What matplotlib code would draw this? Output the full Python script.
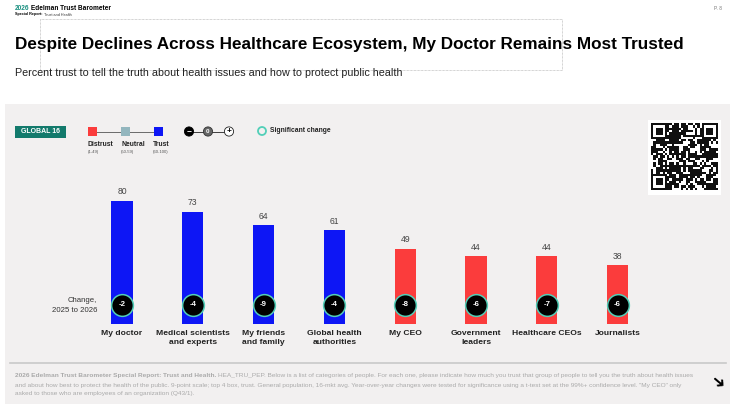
import matplotlib
matplotlib.use("Agg")
import matplotlib.pyplot as plt
from matplotlib.patches import Rectangle, Circle
import numpy as np

plt.rcParams['font.family'] = ['Liberation Sans', 'DejaVu Sans']

# data
categories = ["My doctor", "Medical scientists\nand experts", "My friends\nand family",
              "Global health\nauthorities", "My CEO", "Government\nleaders",
              "Healthcare CEOs", "Journalists"]
trust_2026 = [80, 73, 64, 61, 49, 44, 44, 38]
change_25_26 = [-2, -4, -9, -4, -8, -6, -7, -6]

TRUST_BLUE = "#0d16f5"
DISTRUST_RED = "#fb3c3c"
NEUTRAL = "#93b6be"
TEAL = "#137a6c"
RING = "#52cfb8"
PANEL = "#f2f0f0"

W, H = 730, 404
fig = plt.figure(figsize=(W / 100, H / 100), dpi=100)
fig.patch.set_facecolor("white")

# background axes in pixel coords (y down)
bg = fig.add_axes([0, 0, 1, 1])
bg.set_xlim(0, W)
bg.set_ylim(H, 0)
bg.axis("off")

bg.add_patch(Rectangle((5, 104), W - 5, H - 104, facecolor=PANEL, edgecolor="none", zorder=0))

# header
t = bg.text(15, 8, "2026", color="#1a9080", fontsize=4.7, fontweight="bold", va="center")
fig.canvas.draw()
bb = t.get_window_extent()
bg.text(bb.x1 + 1.5, 8, "Edelman Trust Barometer", color="black", fontsize=4.7,
        fontweight="bold", va="center")
t = bg.text(15, 14.5, "Special Report:", fontsize=2.7, fontweight="bold", va="center")
fig.canvas.draw()
bg.text(t.get_window_extent().x1 + 1, 14.5, "Trust and Health", fontsize=2.7, va="center", color="#333333")
bg.text(722, 9, "P. 8", fontsize=3.4, color="#777777", ha="right", va="center")

# dotted selection box
bg.add_patch(Rectangle((40, 19), 522, 51, facecolor="none", edgecolor="#aaaaaa",
                       lw=0.5, ls=(0, (1, 1)), zorder=1))

bg.text(15, 45, "Despite Declines Across Healthcare Ecosystem, My Doctor Remains Most Trusted",
        fontsize=12.35, fontweight="bold", va="center", color="black")
bg.text(15, 73, "Percent trust to tell the truth about health issues and how to protect public health",
        fontsize=7.75, va="center", color="#222222")

# legend row
bg.add_patch(Rectangle((15, 125.5), 51, 12, facecolor=TEAL, edgecolor="none", zorder=2))
bg.text(40.5, 131.7, "GLOBAL 16", color="white", fontsize=5, fontweight="bold",
        ha="center", va="center", zorder=3)

bg.plot([92, 158], [131.5, 131.5], color="#555555", lw=0.6, zorder=2)
for cx, col in zip([92, 125, 158], [DISTRUST_RED, NEUTRAL, TRUST_BLUE]):
    bg.add_patch(Rectangle((cx - 4.5, 127), 9, 9, facecolor=col, edgecolor="none", zorder=3))
for lx, lab, rng in zip([88, 121, 153], ["Distrust", "Neutral", "Trust"],
                        ["(1-49)", "(50-59)", "(60-100)"]):
    bg.text(lx, 145, lab, fontsize=4.9, fontweight="bold", va="center", color="#222222")
    bg.text(lx, 151.5, rng, fontsize=3.1, va="center", color="#555555")

bg.plot([189, 229], [131.5, 131.5], color="#222222", lw=0.6, zorder=2)
bg.add_patch(Circle((189, 131.5), 4.6, facecolor="black", edgecolor="black", lw=0.6, zorder=3))
bg.text(189, 131.7, "−", color="white", fontsize=6, fontweight="bold", ha="center", va="center", zorder=4)
bg.add_patch(Circle((208, 131.5), 4.6, facecolor="#666666", edgecolor="#333333", lw=0.6, zorder=3))
bg.text(208, 131.7, "0", color="white", fontsize=4.5, fontweight="bold", ha="center", va="center", zorder=4)
bg.add_patch(Circle((229, 131.5), 4.6, facecolor="white", edgecolor="#222222", lw=0.6, zorder=3))
bg.text(229, 131.7, "+", color="black", fontsize=6, fontweight="bold", ha="center", va="center", zorder=4)

bg.add_patch(Circle((262, 131), 4, facecolor="none", edgecolor=RING, lw=1.3, zorder=3))
bg.text(270, 131, "Significant change", fontsize=4.9, fontweight="bold", va="center", color="#222222")

# QR-like block
bg.add_patch(Rectangle((648, 120), 73, 75, facecolor="white", edgecolor="none", zorder=2))
n = 29
cell = 67 / n
for i in range(n):
    for j in range(n):
        finder = False
        for fi, fj in [(0, 0), (0, n - 7), (n - 7, 0)]:
            if fi <= i < fi + 7 and fj <= j < fj + 7:
                finder = True
                di, dj = i - fi, j - fj
                on = di in (0, 6) or dj in (0, 6) or (2 <= di <= 4 and 2 <= dj <= 4)
        if not finder:
            on = ((i * 7 + j * 13) ^ (i * j + i)) % 3 != 0
        if on:
            bg.add_patch(Rectangle((651 + j * cell, 123 + i * cell), cell, cell,
                                   facecolor="#111111", edgecolor="none", zorder=3))

# change label
bg.text(97, 300, "Change,", fontsize=5.6, ha="right", va="center", color="#333333")
bg.text(97, 310, "2025 to 2026", fontsize=5.6, ha="right", va="center", color="#333333")

# footer
bg.plot([10, 726], [362.5, 362.5], color="#c9c9c9", lw=1.2)
fcol = "#aaaaaa"
fs = 4.68
t = bg.text(15, 376, "2026 Edelman Trust Barometer Special Report: Trust and Health.",
            fontsize=fs, fontweight="bold", color=fcol, va="center")
fig.canvas.draw()
bg.text(t.get_window_extent().x1 + 1.5, 376,
        "HEA_TRU_PEP. Below is a list of categories of people. For each one, please indicate how much "
        "you trust that group of people to tell you the truth about health issues",
        fontsize=fs, color=fcol, va="center")
bg.text(15, 385, "and about how best to protect the health of the public. 9-point scale; top 4 box, trust. "
        "General population, 16-mkt avg. Year-over-year changes were tested for significance using a "
        "t-test set at the 99%+ confidence level. \"My CEO\" only",
        fontsize=fs, color=fcol, va="center")
bg.text(15, 394, "asked to those who are employees of an organization (Q43/1).",
        fontsize=fs, color=fcol, va="center")
bg.text(718, 382, "➜", family="DejaVu Sans", fontsize=12, fontweight="bold", rotation=-40,
        ha="center", va="center", color="black")

# bar axes: centres at 122 + 70.8*i px, baseline at y=324 px, 1.54 px per point
step = 70.8
left_px = 122 - 0.5 * step
ax_w = 8 * step
base_px = 324
ax_h = 154
ax = fig.add_axes([left_px / W, (H - base_px) / H, ax_w / W, ax_h / H])
ax.set_xlim(-0.5, 7.5)
ax.set_ylim(0, 100)
ax.patch.set_alpha(0)
ax.axis("off")

x = np.arange(len(categories))
colors = [TRUST_BLUE if v >= 60 else (NEUTRAL if v >= 50 else DISTRUST_RED) for v in trust_2026]
ax.bar(x, trust_2026, width=0.30, color=colors, zorder=2)

for xi, v in zip(x, trust_2026):
    ax.annotate(str(v), (xi, v), xytext=(0, 3.2), textcoords="offset points",
                ha="center", va="bottom", fontsize=6.2, color="#444444")

circ_y = (base_px - 305) / 1.54
ax.scatter(x, [circ_y] * len(x), s=245, facecolor="black", edgecolor=RING, linewidth=1.1, zorder=3)
for xi, c in zip(x, change_25_26):
    ax.text(xi, circ_y, str(c), color="white", fontsize=5.6, fontweight="bold",
            ha="center", va="center", zorder=4)

for xi, lab in zip(x, categories):
    ax.annotate(lab, (xi, 0), xytext=(0, -4.5), textcoords="offset points",
                ha="center", va="top", fontsize=6.1, fontweight="bold", color="#222222",
                linespacing=1.4)

fig.savefig("out.png", dpi=100, facecolor="white")
